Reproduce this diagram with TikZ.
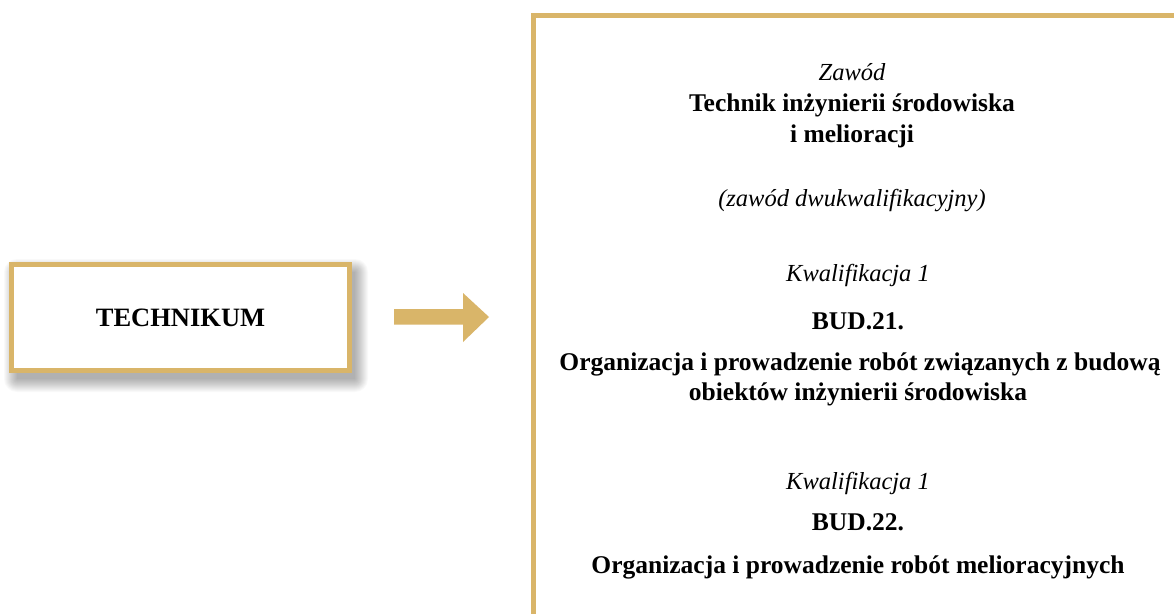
\documentclass[tikz,border=0pt]{standalone}
\usepackage{fontspec}
\setmainfont{Liberation Serif}
\definecolor{gold}{RGB}{217,181,105}
\tikzset{
  goldbox/.style={draw=gold, line width=5pt, fill=white, inner sep=0pt,
    minimum width=338pt, minimum height=106pt},
  shadowlayer/.style={fill=black, fill opacity=0.022, draw=none},
  itline/.style={inner sep=0pt, anchor=base, font=\itshape\fontsize{24.5}{28}\selectfont},
  bfline/.style={inner sep=0pt, anchor=base, font=\bfseries\fontsize{25.5}{28}\selectfont},
  goldarrow/.style={fill=gold, draw=none}
}
\begin{document}
\begin{tikzpicture}[x=1pt,y=-1pt]
\useasboundingbox (0,0) rectangle (1174,613);
\clip (0,0) rectangle (1174,613);
\fill[white] (0,0) rectangle (1174,613);
% soft shadow of the left box
\foreach \i in {0,...,13}{
  \pgfmathsetmacro{\e}{13-\i}
  \fill[shadowlayer, rounded corners=\e pt] (17-\e,272-\e) rectangle (355+\e,379+\e);
}
% left box
\node[goldbox, font=\bfseries\fontsize{26.5}{30}\selectfont] (tech) at (180.5,317.5) {TECHNIKUM};
% arrow
\coordinate (a1) at (394,309);
\coordinate (a2) at (463,309);
\coordinate (a3) at (463,293);
\coordinate (a4) at (489,317);
\coordinate (a5) at (463,342);
\coordinate (a6) at (463,324.5);
\coordinate (a7) at (394,324.5);
\fill[goldarrow] (a1) -- (a2) -- (a3) -- (a4) -- (a5) -- (a6) -- (a7) -- cycle;
% right box (open to the right and bottom)
\coordinate (rb) at (533.5,625);
\coordinate (rc) at (533.5,15.5);
\coordinate (rr) at (1190,15.5);
\draw[gold, line width=5pt] (rb) -- (rc) -- (rr);
% texts
\node[itline] (zawod) at (852,80) {Zawód};
\node[bfline] (tech1) at (852,111) {Technik inżynierii środowiska};
\node[bfline] (tech2) at (852,142) {i melioracji};
\node[itline] (dwu) at (852,206) {(zawód dwukwalifikacyjny)};
\node[itline] (k1) at (858,281) {Kwalifikacja 1};
\node[bfline] (bud21) at (858,329) {BUD.21.};
\node[bfline] (org1) at (860,370) {Organizacja i prowadzenie robót związanych z budową};
\node[bfline] (org1b) at (858,400) {obiektów inżynierii środowiska};
\node[itline] (k2) at (858,489) {Kwalifikacja 1};
\node[bfline] (bud22) at (858,530.5) {BUD.22.};
\node[bfline] (org2) at (858,573) {Organizacja i prowadzenie robót melioracyjnych};
\end{tikzpicture}
\end{document}
